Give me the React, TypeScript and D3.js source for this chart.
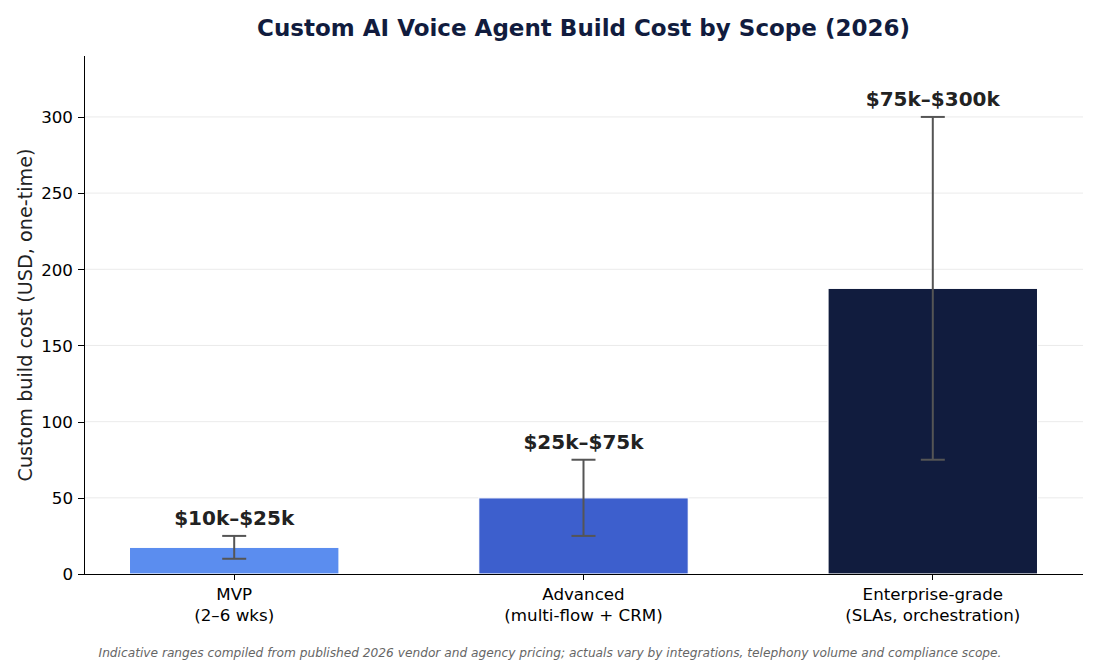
import { useEffect, useRef } from 'react'
import * as d3 from 'd3'

const categories = ['MVP\n(2–6 wks)', 'Advanced\n(multi-flow + CRM)', 'Enterprise-grade\n(SLAs, orchestration)']
const lowValues = [10, 25, 75]
const highValues = [25, 75, 300]
const rangeLabels = ['$10k–$25k', '$25k–$75k', '$75k–$300k']
const barColors = ['#5B8DEF', '#3D5FCD', '#111C3E']
const yTicks = [0, 50, 100, 150, 200, 250, 300]

export default function App() {
  const svgRef = useRef<SVGSVGElement>(null)

  useEffect(() => {
    if (!svgRef.current) return
    const svg = d3.select(svgRef.current)
    svg.selectAll('*').remove()

    const width = 1100
    const height = 660
    const margin = { top: 56, right: 17, bottom: 86, left: 84 }
    const font = 'DejaVu Sans, sans-serif'

    // bar height is midpoint of the cost range
    const mids = lowValues.map((lo, i) => (lo + highValues[i]) / 2)

    const x = d3.scaleLinear().domain([-0.43, 2.43]).range([margin.left, width - margin.right])
    const y = d3.scaleLinear().domain([0, 340]).range([height - margin.bottom, margin.top])
    const barW = x(0.6) - x(0)

    svg.attr('width', width).attr('height', height)
    svg.append('rect').attr('width', width).attr('height', height).attr('fill', '#fff')

    // Grid lines
    svg.append('g')
      .selectAll('line')
      .data(yTicks.slice(1))
      .enter()
      .append('line')
      .attr('x1', margin.left)
      .attr('x2', width - margin.right)
      .attr('y1', d => y(d))
      .attr('y2', d => y(d))
      .attr('stroke', '#e6e6e6')
      .attr('stroke-width', 0.8)

    // Bars
    svg.append('g')
      .selectAll('rect')
      .data(mids)
      .enter()
      .append('rect')
      .attr('x', (_, i) => x(i) - barW / 2)
      .attr('y', d => y(d))
      .attr('width', barW)
      .attr('height', d => y(0) - y(d))
      .attr('fill', (_, i) => barColors[i])
      .attr('stroke', '#fff')
      .attr('stroke-width', 1.2)

    // Error bars
    const err = svg.append('g').attr('stroke', '#555').attr('stroke-width', 2)
    lowValues.forEach((lo, i) => {
      const cx = x(i)
      err.append('line').attr('x1', cx).attr('x2', cx).attr('y1', y(lo)).attr('y2', y(highValues[i]))
      err.append('line').attr('x1', cx - 12).attr('x2', cx + 12).attr('y1', y(lo)).attr('y2', y(lo))
      err.append('line').attr('x1', cx - 12).attr('x2', cx + 12).attr('y1', y(highValues[i])).attr('y2', y(highValues[i]))
    })

    // Range labels
    svg.append('g')
      .selectAll('text')
      .data(rangeLabels)
      .enter()
      .append('text')
      .attr('x', (_, i) => x(i))
      .attr('y', (_, i) => y(highValues[i]) - 11)
      .attr('text-anchor', 'middle')
      .attr('font-family', font)
      .attr('font-weight', 'bold')
      .attr('font-size', 20)
      .attr('fill', '#222')
      .text(d => d)

    // Axes
    const yAxis = d3.axisLeft(y).tickValues(yTicks).tickSize(6).tickPadding(5)
    const gy = svg.append('g').attr('transform', `translate(${margin.left},0)`).call(yAxis)
    gy.select('.domain').attr('d', `M0,${y(340)}V${y(0)}`).attr('stroke', '#000').attr('stroke-width', 1)
      .attr('shape-rendering', 'crispEdges')
    gy.selectAll('.tick line').attr('stroke', '#000').attr('shape-rendering', 'crispEdges')
    gy.selectAll('text').attr('font-family', font).attr('font-size', 16.7).attr('fill', '#000')
      .attr('dy', '0.35em')

    const gx = svg.append('g').attr('transform', `translate(0,${y(0)})`).attr('shape-rendering', 'crispEdges')
    gx.append('line').attr('x1', margin.left).attr('x2', width - margin.right).attr('stroke', '#000')
    categories.forEach((c, i) => {
      gx.append('line').attr('x1', x(i)).attr('x2', x(i)).attr('y1', 0).attr('y2', 6).attr('stroke', '#000')
      const t = gx.append('text')
        .attr('text-anchor', 'middle')
        .attr('font-family', font)
        .attr('font-size', 16.7)
        .attr('fill', '#000')
      c.split('\n').forEach((line, j) => {
        t.append('tspan').attr('x', x(i)).attr('y', 26 + j * 21).text(line)
      })
    })

    // Axis label
    svg.append('text')
      .attr('transform', `translate(32,${(y(0) + y(340)) / 2}) rotate(-90)`)
      .attr('text-anchor', 'middle')
      .attr('font-family', font)
      .attr('font-size', 19.2)
      .attr('fill', '#222')
      .text('Custom build cost (USD, one-time)')

    // Title
    svg.append('text')
      .attr('x', (margin.left + width - margin.right) / 2)
      .attr('y', 36)
      .attr('text-anchor', 'middle')
      .attr('font-family', font)
      .attr('font-weight', 'bold')
      .attr('font-size', 23)
      .attr('fill', '#111C3E')
      .text('Custom AI Voice Agent Build Cost by Scope (2026)')

    // Footnote
    svg.append('text')
      .attr('x', width / 2)
      .attr('y', 657)
      .attr('text-anchor', 'middle')
      .attr('font-family', font)
      .attr('font-style', 'italic')
      .attr('font-size', 12.2)
      .attr('fill', '#666')
      .text('Indicative ranges compiled from published 2026 vendor and agency pricing; actuals vary by integrations, telephony volume and compliance scope.')
  }, [])

  return <svg ref={svgRef} style={{ position: 'absolute', left: 0, top: 0, display: 'block' }} />
}
